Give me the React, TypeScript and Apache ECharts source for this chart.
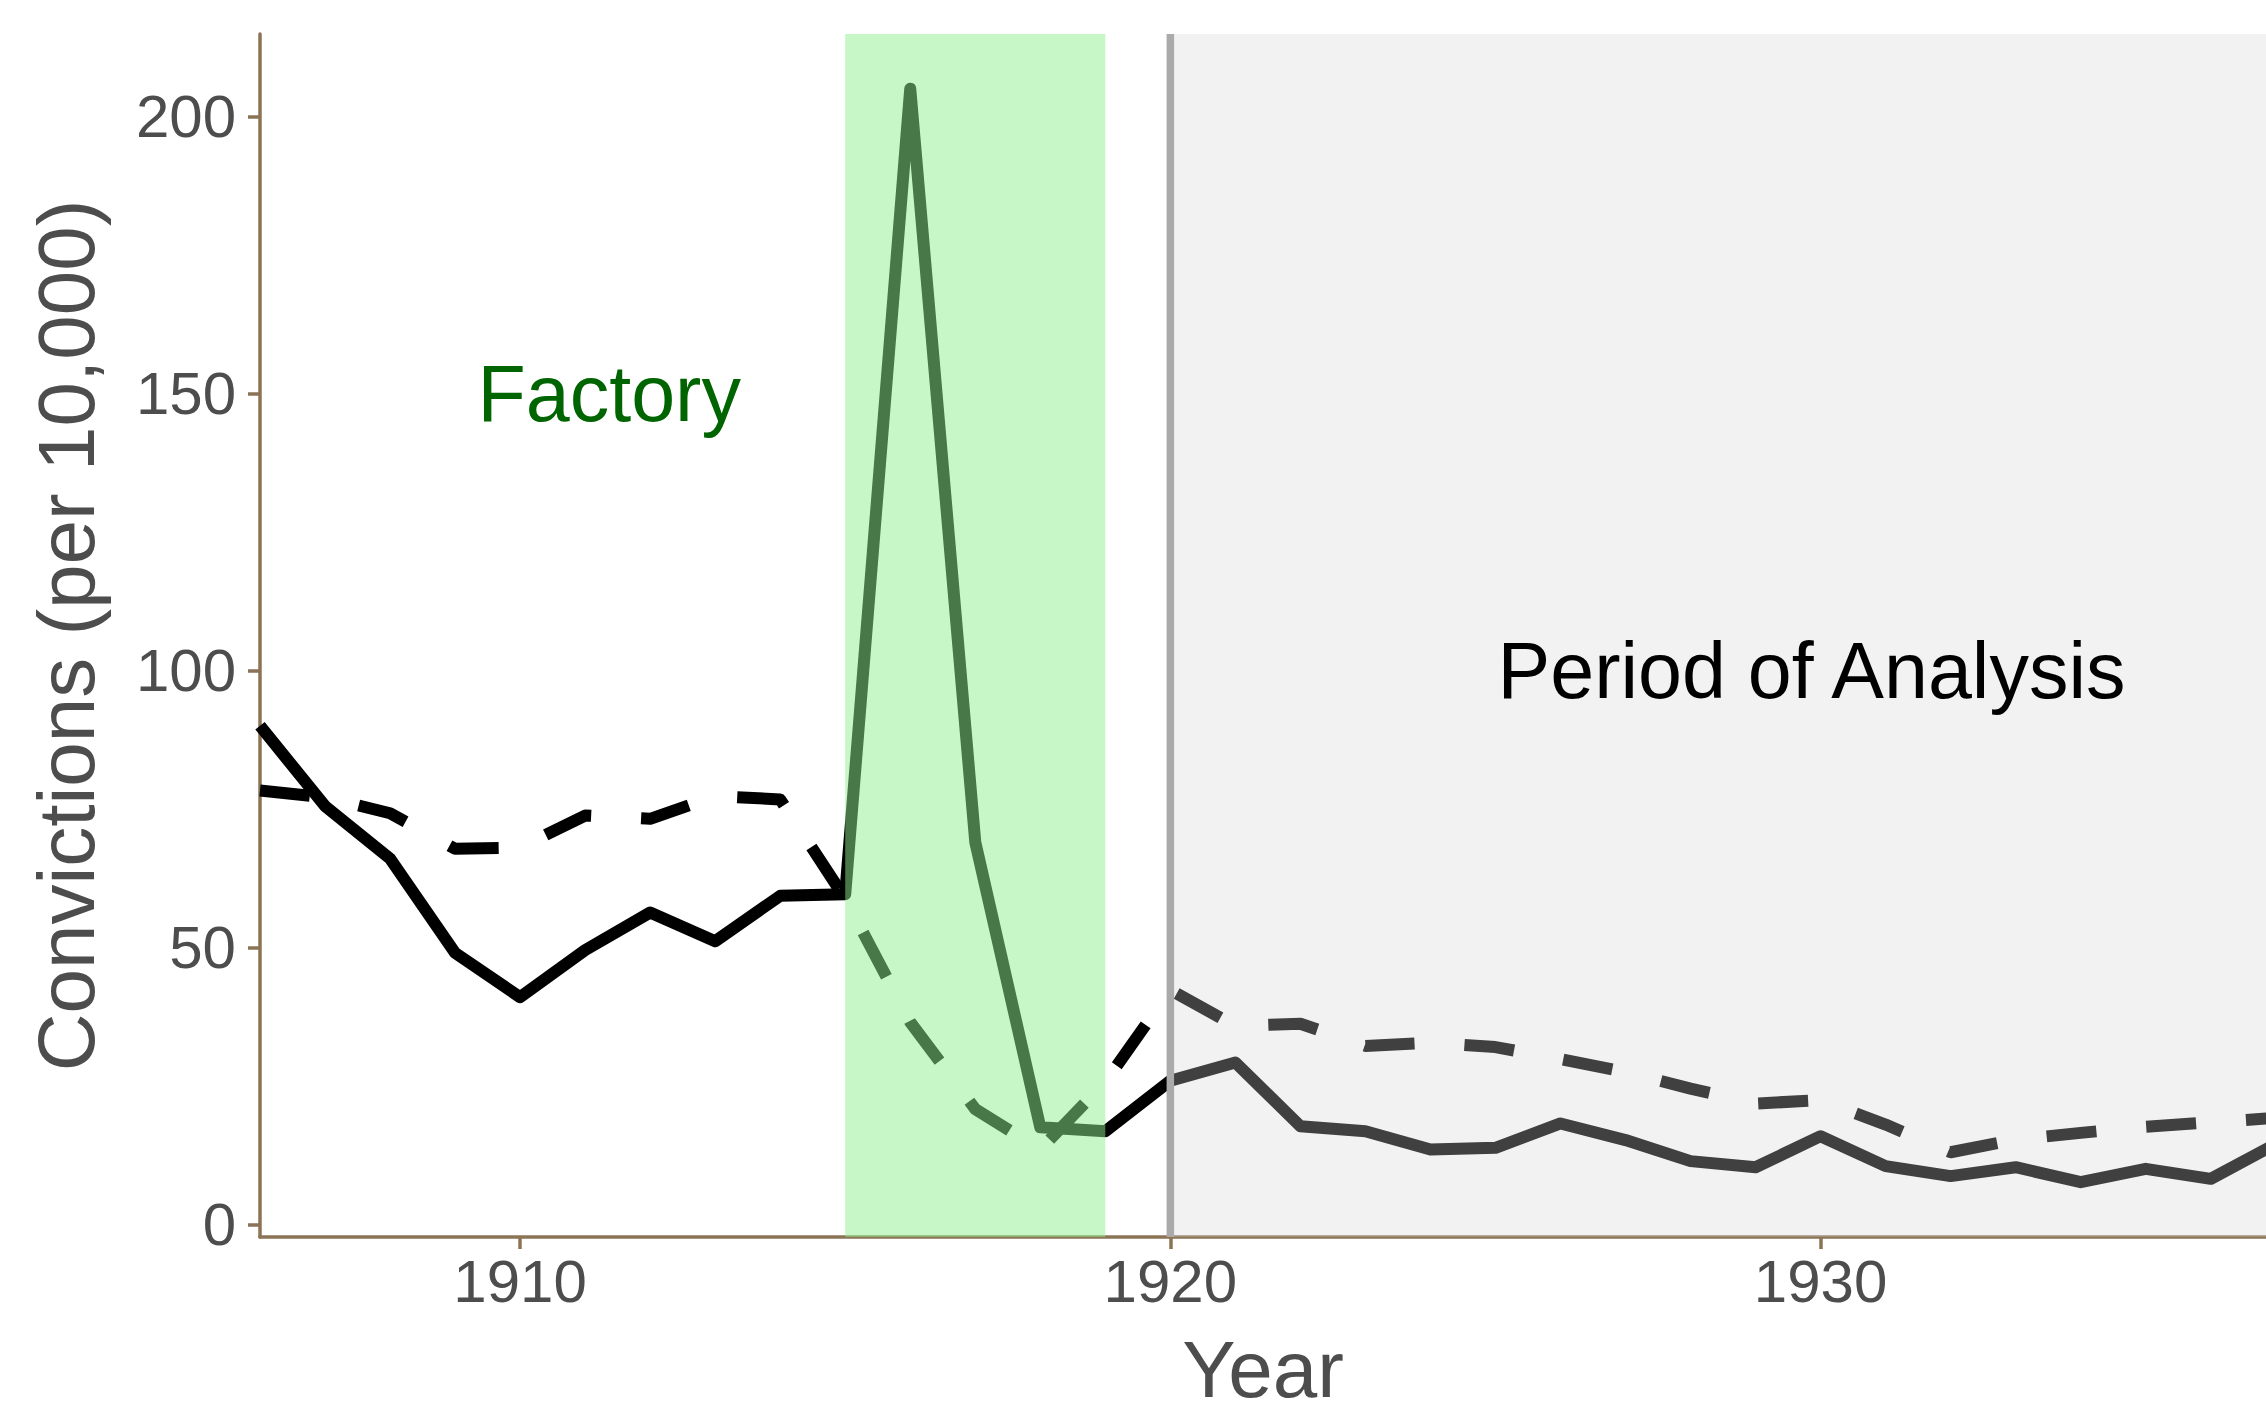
import React, { useEffect, useRef } from "react";
import * as echarts from "echarts";

const years = [
  1906, 1907, 1908, 1909, 1910, 1911, 1912, 1913, 1914, 1915, 1916, 1917, 1918, 1919, 1920, 1921,
  1922, 1923, 1924, 1925, 1926, 1927, 1928, 1929, 1930, 1931, 1932, 1933, 1934, 1935, 1936, 1937,
];
const solidValues = [
  90, 75.5, 66, 49, 41, 49.5, 56.3, 51.1, 59.3, 59.6, 205, 69, 17.5, 16.8, 25.9, 29.2,
  17.7, 16.8, 13.5, 13.8, 18.2, 15.2, 11.4, 10.3, 15.9, 10.5, 8.7, 10.3, 7.6, 10.0, 8.2, 14.5,
];
const dashedValues = [
  78.3, 77.1, 74.2, 67.8, 68, 73.8, 73.2, 77.3, 76.7, 58.8, 36.5, 20.8, 13.5, 25.7, 42.3, 35.8,
  36.2, 32.2, 32.8, 32.0, 29.8, 27.5, 24.5, 21.8, 22.4, 18.0, 13.0, 15.3, 16.5, 17.6, 18.4, 19.2,
];
const yTickValues = [0, 50, 100, 150, 200];
const xTickValues = [1910, 1920, 1930];
const bandStarts = [1915, 1920];
const bandEnds = [1919, 1937];
const bandColors = ["rgba(144,238,144,0.5)", "rgba(211,211,211,0.3)"];
const analysisLineYear = [1920];
const labelTexts = ["Factory", "Period of Analysis"];
const labelYears = [1911.37, 1929.86];
const labelValues = [150, 100];
const labelColors = ["#006400", "#000000"];

const X_MIN = 1906;
const X_MAX = 1936.85;
const Y_MIN = -2.3;
const Y_MAX = 214.9;

const FONT = "'Liberation Sans', Arial, sans-serif";
const AXIS_COLOR = "#8B7355";
const TEXT_GREY = "#4D4D4D";

export default function App() {
  const ref = useRef<HTMLDivElement>(null);

  useEffect(() => {
    if (!ref.current) return;
    const chart = echarts.init(ref.current, undefined, { renderer: "svg" });

    const bandData = bandStarts.map((s, i) => [s, bandEnds[i]]);

    const option = {
      animation: false,
      grid: {
        left: 260,
        right: 0,
        top: 34,
        bottom: 166,
        containLabel: false,
        outerBoundsMode: "none",
      },
      xAxis: {
        type: "value",
        min: X_MIN,
        max: X_MAX,
        name: "Year",
        nameLocation: "middle",
        nameGap: 92,
        nameTextStyle: { fontSize: 80, color: TEXT_GREY, fontFamily: FONT },
        axisLine: { show: true, onZero: false, lineStyle: { color: AXIS_COLOR, width: 3.5 } },
        axisTick: { show: true, length: 12, customValues: xTickValues, lineStyle: { color: AXIS_COLOR, width: 3.5 } },
        axisLabel: {
          customValues: xTickValues,
          fontSize: 60,
          color: TEXT_GREY,
          fontFamily: FONT,
          margin: 14,
          formatter: (v: number) => String(v),
        },
        splitLine: { show: false },
      },
      yAxis: {
        type: "value",
        min: Y_MIN,
        max: Y_MAX,
        name: "Convictions (per 10,000)",
        nameLocation: "middle",
        nameRotate: 90,
        nameGap: 154,
        nameTextStyle: { fontSize: 80, color: TEXT_GREY, fontFamily: FONT },
        axisLine: { show: true, onZero: false, lineStyle: { color: AXIS_COLOR, width: 3.5 } },
        axisTick: { show: true, length: 12, customValues: yTickValues, lineStyle: { color: AXIS_COLOR, width: 3.5 } },
        axisLabel: {
          customValues: yTickValues,
          fontSize: 60,
          color: TEXT_GREY,
          fontFamily: FONT,
          margin: 24,
          formatter: (v: number) => String(v),
        },
        splitLine: { show: false },
      },
      series: [
        {
          type: "line",
          name: "solid",
          z: 2,
          silent: true,
          showSymbol: false,
          symbol: "none",
          data: years.map((y, i) => [y, solidValues[i]]),
          lineStyle: { color: "#000000", width: 12, join: "round", cap: "butt" },
        },
        {
          type: "line",
          name: "dashed",
          z: 2,
          silent: true,
          showSymbol: false,
          symbol: "none",
          data: years.map((y, i) => [y, dashedValues[i]]),
          lineStyle: { color: "#000000", width: 12, type: [50, 50], dashOffset: 0, join: "round", cap: "butt" },
        },
        {
          type: "custom",
          name: "bands",
          z: 3,
          silent: true,
          data: bandData,
          encode: { x: [0, 1] },
          renderItem: (params: any, api: any) => {
            const p0 = api.coord([api.value(0), Y_MAX]);
            const p1 = api.coord([api.value(1), Y_MIN]);
            const cs = params.coordSys;
            const shape = echarts.graphic.clipRectByRect(
              { x: p0[0], y: p0[1], width: p1[0] - p0[0], height: p1[1] - p0[1] },
              { x: cs.x, y: cs.y, width: cs.width, height: cs.height }
            );
            if (!shape) return null;
            return { type: "rect", shape, style: { fill: bandColors[params.dataIndex] } };
          },
        },
        {
          type: "custom",
          name: "vline",
          z: 4,
          silent: true,
          data: analysisLineYear.map((y) => [y]),
          encode: { x: 0 },
          renderItem: (params: any, api: any) => {
            const p0 = api.coord([api.value(0), Y_MAX]);
            const p1 = api.coord([api.value(0), Y_MIN]);
            return {
              type: "line",
              shape: { x1: p0[0], y1: p0[1], x2: p1[0], y2: p1[1] },
              style: { stroke: "#AAAAAA", lineWidth: 7.5 },
            };
          },
        },
        {
          type: "custom",
          name: "labels",
          z: 6,
          silent: true,
          data: labelYears.map((y, i) => [y, labelValues[i]]),
          encode: { x: 0, y: 1 },
          renderItem: (params: any, api: any) => {
            const p = api.coord([api.value(0), api.value(1)]);
            const i = params.dataIndex;
            return {
              type: "text",
              x: p[0],
              y: p[1],
              style: {
                text: labelTexts[i],
                fill: labelColors[i],
                fontSize: 79,
                fontFamily: FONT,
                align: "center",
                verticalAlign: "middle",
              },
            };
          },
        },
      ],
    };

    chart.setOption(option as any);
    return () => chart.dispose();
  }, []);

  return (
    <div
      ref={ref}
      style={{ position: "fixed", left: 0, top: 0, width: 2266, height: 1403, background: "#ffffff" }}
    />
  );
}
